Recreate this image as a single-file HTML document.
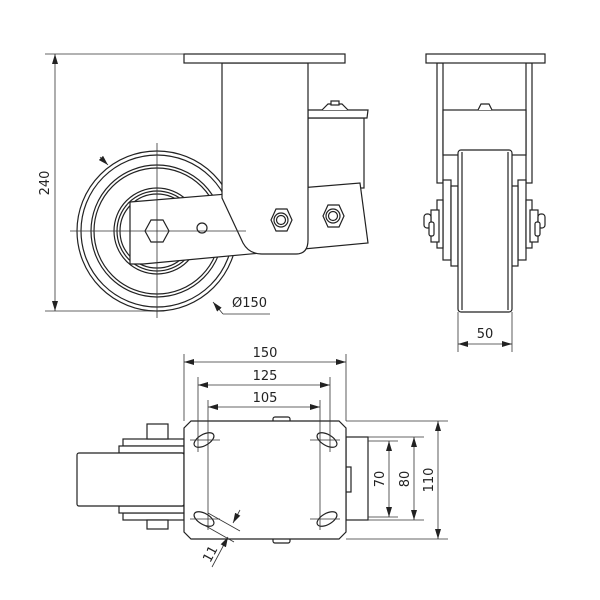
<!DOCTYPE html>
<html><head><meta charset="utf-8"><style>html,body{margin:0;padding:0;background:#fff}svg{display:block}text{font-family:"DejaVu Sans","Liberation Sans",sans-serif;font-size:13px;fill:#222}</style></head>
<body>
<svg width="600" height="600" viewBox="0 0 600 600" xmlns="http://www.w3.org/2000/svg">
<defs>
<marker id="a" viewBox="0 0 10 6" refX="10" refY="3" markerWidth="10" markerHeight="6" orient="auto-start-reverse" markerUnits="userSpaceOnUse"><path d="M0,0 L10,3 L0,6 z" fill="#222"/></marker>
</defs>
<g fill="#fff" stroke="#222" stroke-width="1.2">
<circle cx="157" cy="231" r="80"/>
<circle cx="157" cy="231" r="76"/>
<circle cx="157" cy="231" r="66"/>
<circle cx="157" cy="231" r="63"/>
<circle cx="157" cy="231" r="43"/>
<circle cx="157" cy="231" r="40"/>
<circle cx="157" cy="231" r="37"/>
<rect x="308" y="118" width="56" height="70"/>
<path d="M308,110 H368 L367,118 H308 z"/>
<path d="M322,110 L328,104 H342 L348,110" />
<rect x="331" y="101" width="8" height="4"/>
<path d="M130,202 L360,183 L368,243 L143,264 L130,264 z"/>
<path d="M222,63 V198 L243,243 Q249,254 262,254 H296 Q308,254 308,240 V63 z"/>
<rect x="184" y="54" width="161" height="9"/>
<polygon points="151,220 163,220 169,231 163,242 151,242 145,231"/>
<circle cx="202" cy="228" r="5"/>
<polygon points="276,209 287,209 292,220 287,231 276,231 271,220"/>
<circle cx="281" cy="220" r="7"/><circle cx="281" cy="220" r="4.5"/>
<polygon points="328,205 339,205 344,216 339,227 328,227 323,216"/>
<circle cx="333" cy="216" r="7"/><circle cx="333" cy="216" r="4.5"/>
</g>
<g stroke="#333" stroke-width="0.8" fill="none">
<line x1="70" y1="231" x2="246" y2="231"/>
<line x1="157" y1="143" x2="157" y2="318"/>
<line x1="45" y1="54" x2="184" y2="54"/>
<line x1="45" y1="311" x2="157" y2="311"/>
<line x1="55" y1="54" x2="55" y2="311" marker-start="url(#a)" marker-end="url(#a)"/>
<line x1="100" y1="157" x2="108" y2="165" marker-end="url(#a)"/>
<polyline points="223,314 213,302" marker-end="url(#a)"/>
<line x1="223" y1="314" x2="270" y2="314"/>
</g>
<text x="0" y="0" transform="translate(49,183) rotate(-90)" text-anchor="middle">240</text>
<text x="232" y="307">Ø150</text>

<g fill="#fff" stroke="#222" stroke-width="1.2">
<rect x="437" y="63" width="6" height="120"/>
<rect x="526" y="63" width="6" height="120"/>
<rect x="443" y="110" width="83" height="45"/>
<path d="M478,110 L481,104 H489 L492,110"/>
<rect x="426" y="54" width="119" height="9"/>
<rect x="443" y="180" width="8" height="80"/>
<rect x="451" y="186" width="7" height="80"/>
<rect x="518" y="180" width="8" height="80"/>
<rect x="511" y="186" width="7" height="80"/>
<rect x="437" y="200" width="6" height="48"/>
<rect x="526" y="200" width="6" height="48"/>
<rect x="431" y="210" width="8" height="32"/>
<rect x="530" y="210" width="8" height="32"/>
<rect x="424" y="214" width="7" height="14" rx="3"/>
<rect x="538" y="214" width="7" height="14" rx="3"/>
<rect x="429" y="222" width="5" height="14" rx="2"/>
<rect x="535" y="222" width="5" height="14" rx="2"/>
<rect x="458" y="150" width="54" height="162" rx="3"/>
<line x1="462" y1="152" x2="462" y2="310"/>
<line x1="508" y1="152" x2="508" y2="310"/>
</g>
<g stroke="#333" stroke-width="0.8" fill="none">
<line x1="458" y1="312" x2="458" y2="352"/>
<line x1="512" y1="312" x2="512" y2="352"/>
<line x1="458" y1="344" x2="512" y2="344" marker-start="url(#a)" marker-end="url(#a)"/>
</g>
<text x="485" y="338" text-anchor="middle">50</text>

<g fill="#fff" stroke="#222" stroke-width="1.2">
<rect x="123" y="439" width="61" height="7"/>
<rect x="123" y="513" width="61" height="7"/>
<rect x="119" y="446" width="65" height="7"/>
<rect x="119" y="506" width="65" height="7"/>
<rect x="77" y="453" width="107" height="53" rx="2"/>
<rect x="147" y="424" width="21" height="15"/>
<rect x="147" y="520" width="21" height="9"/>
<rect x="346" y="437" width="22" height="83"/>
<rect x="346" y="467" width="5" height="25"/>
<rect x="273" y="417" width="17" height="6" rx="2"/>
<rect x="273" y="537" width="17" height="6" rx="2"/>
<path d="M191,421 H339 L346,428 V532 L339,539 H191 L184,532 V428 z"/>
<ellipse cx="204" cy="440" rx="11" ry="5.5" transform="rotate(-30 204 440)"/>
<ellipse cx="327" cy="440" rx="11" ry="5.5" transform="rotate(30 327 440)"/>
<ellipse cx="204" cy="519" rx="11" ry="5.5" transform="rotate(30 204 519)"/>
<ellipse cx="327" cy="519" rx="11" ry="5.5" transform="rotate(-30 327 519)"/>
</g>
<g stroke="#333" stroke-width="0.8" fill="none">
<line x1="184" y1="354" x2="184" y2="421"/>
<line x1="346" y1="354" x2="346" y2="421"/>
<line x1="184" y1="362" x2="346" y2="362" marker-start="url(#a)" marker-end="url(#a)"/>
<line x1="198" y1="377" x2="198" y2="452"/>
<line x1="330" y1="377" x2="330" y2="452"/>
<line x1="198" y1="385" x2="330" y2="385" marker-start="url(#a)" marker-end="url(#a)"/>
<line x1="208" y1="400" x2="208" y2="530"/>
<line x1="320" y1="400" x2="320" y2="530"/>
<line x1="208" y1="407" x2="320" y2="407" marker-start="url(#a)" marker-end="url(#a)"/>
<line x1="190" y1="440" x2="220" y2="440"/>
<line x1="310" y1="440" x2="340" y2="440"/>
<line x1="190" y1="519" x2="220" y2="519"/>
<line x1="310" y1="519" x2="340" y2="519"/>
<line x1="346" y1="421" x2="448" y2="421"/>
<line x1="346" y1="539" x2="448" y2="539"/>
<line x1="368" y1="437" x2="424" y2="437"/>
<line x1="368" y1="520" x2="424" y2="520"/>
<line x1="368" y1="441" x2="398" y2="441"/>
<line x1="368" y1="517" x2="398" y2="517"/>
<line x1="389" y1="441" x2="389" y2="517" marker-start="url(#a)" marker-end="url(#a)"/>
<line x1="414" y1="437" x2="414" y2="520" marker-start="url(#a)" marker-end="url(#a)"/>
<line x1="438" y1="421" x2="438" y2="539" marker-start="url(#a)" marker-end="url(#a)"/>
<line x1="208" y1="513" x2="240" y2="531"/>
<line x1="204" y1="525" x2="234" y2="542"/>
<line x1="240" y1="510" x2="233" y2="523" marker-end="url(#a)"/>
<line x1="212" y1="567" x2="228" y2="537" marker-end="url(#a)"/>
</g>
<text x="265" y="357" text-anchor="middle">150</text>
<text x="265" y="380" text-anchor="middle">125</text>
<text x="265" y="402" text-anchor="middle">105</text>
<text transform="translate(384,479) rotate(-90)" text-anchor="middle">70</text>
<text transform="translate(409,479) rotate(-90)" text-anchor="middle">80</text>
<text transform="translate(433,480) rotate(-90)" text-anchor="middle">110</text>
<text transform="translate(214,556) rotate(-62)" text-anchor="middle">11</text>
</svg>
</body></html>
